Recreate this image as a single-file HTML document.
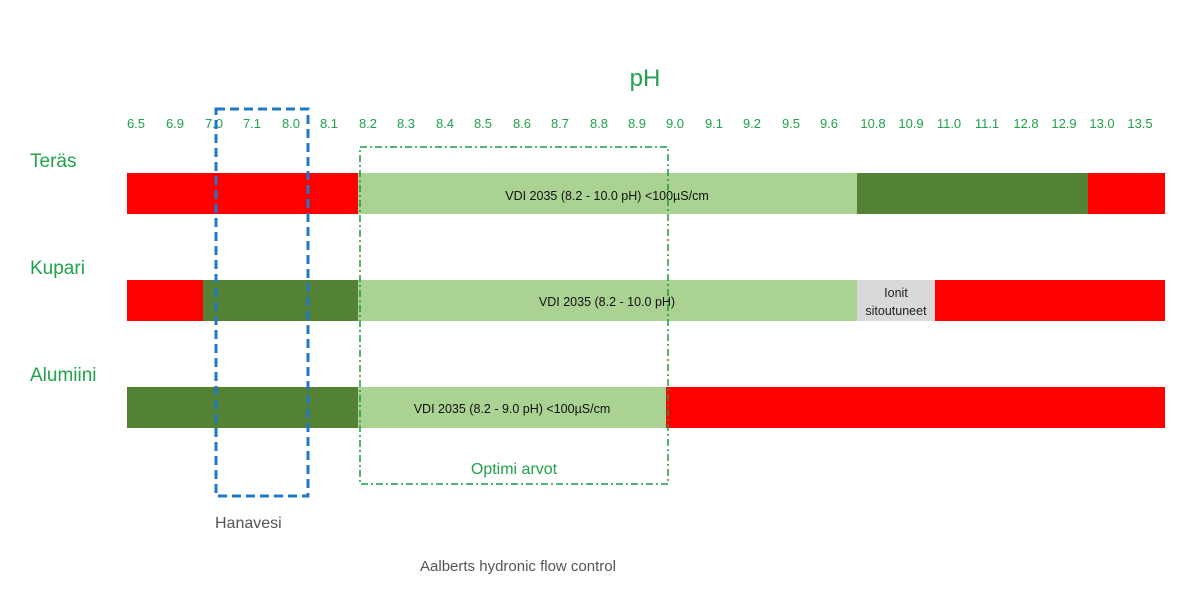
<!DOCTYPE html>
<html><head><meta charset="utf-8"><style>
html,body{margin:0;padding:0;background:#fff;}
svg{display:block;}
</style></head><body>
<svg width="1200" height="600" xmlns="http://www.w3.org/2000/svg" font-family="Liberation Sans, DejaVu Sans, sans-serif">
<rect width="1200" height="600" fill="#fff"/>
<text x="645" y="86" fill="#1fa24a" font-size="24" text-anchor="middle">pH</text>
<g fill="#1fa24a" font-size="13" text-anchor="middle">
<text x="136" y="128">6.5</text><text x="175" y="128">6.9</text><text x="214" y="128">7.0</text><text x="252" y="128">7.1</text><text x="291" y="128">8.0</text><text x="329" y="128">8.1</text><text x="368" y="128">8.2</text><text x="406" y="128">8.3</text><text x="445" y="128">8.4</text><text x="483" y="128">8.5</text><text x="522" y="128">8.6</text><text x="560" y="128">8.7</text><text x="599" y="128">8.8</text><text x="637" y="128">8.9</text><text x="675" y="128">9.0</text><text x="714" y="128">9.1</text><text x="752" y="128">9.2</text><text x="791" y="128">9.5</text><text x="829" y="128">9.6</text><text x="873" y="128">10.8</text><text x="911" y="128">10.9</text><text x="949" y="128">11.0</text><text x="987" y="128">11.1</text><text x="1026" y="128">12.8</text><text x="1064" y="128">12.9</text><text x="1102" y="128">13.0</text><text x="1140" y="128">13.5</text>
</g>
<g fill="#1fa24a" font-size="19">
<text x="30" y="167">Teräs</text><text x="30" y="274">Kupari</text><text x="30" y="381">Alumiini</text>
</g>
<rect x="127" y="173" width="231" height="41" fill="#ff0000"/>
<rect x="358" y="173" width="499" height="41" fill="#aad292"/>
<rect x="857" y="173" width="231" height="41" fill="#548235"/>
<rect x="1088" y="173" width="77" height="41" fill="#ff0000"/>
<rect x="127" y="280" width="76" height="41" fill="#ff0000"/>
<rect x="203" y="280" width="155" height="41" fill="#548235"/>
<rect x="358" y="280" width="499" height="41" fill="#aad292"/>
<rect x="857" y="280" width="78" height="41" fill="#d9d9d9"/>
<rect x="935" y="280" width="230" height="41" fill="#ff0000"/>
<rect x="127" y="387" width="231" height="41" fill="#548235"/>
<rect x="358" y="387" width="308" height="41" fill="#aad292"/>
<rect x="666" y="387" width="499" height="41" fill="#ff0000"/>
<g fill="#111" font-size="12.5" text-anchor="middle">
<text x="607" y="200">VDI 2035 (8.2 - 10.0 pH) &lt;100µS/cm</text>
<text x="607" y="306">VDI 2035 (8.2 - 10.0 pH)</text>
<text x="512" y="413">VDI 2035 (8.2 - 9.0 pH) &lt;100µS/cm</text>
<text x="896" y="297" fill="#222">Ionit</text>
<text x="896" y="315" fill="#222">sitoutuneet</text>
</g>
<rect x="216" y="109" width="92" height="387" fill="none" stroke="#1f78c8" stroke-width="3" stroke-dasharray="9,5"/>
<rect x="360" y="147" width="308" height="337" fill="none" stroke="#1a9a40" stroke-width="1.5" stroke-dasharray="7,3,2,3"/>
<text x="514" y="474" fill="#1fa24a" font-size="16" text-anchor="middle">Optimi arvot</text>
<text x="215" y="528" fill="#555" font-size="16">Hanavesi</text>
<text x="518" y="571" fill="#555" font-size="15" text-anchor="middle">Aalberts hydronic flow control</text>
</svg>
</body></html>
